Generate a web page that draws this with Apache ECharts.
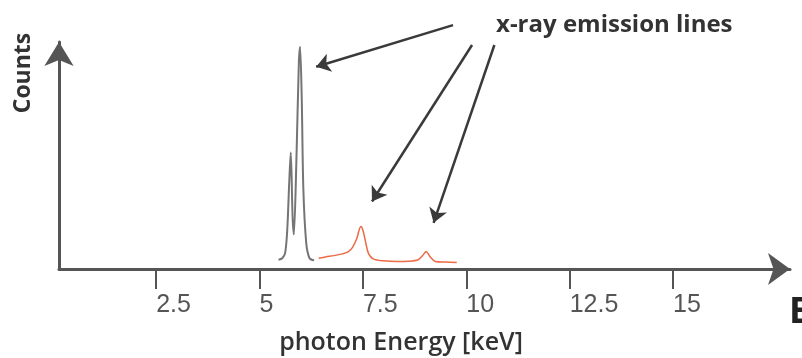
<!DOCTYPE html>
<html>
<head>
<meta charset="utf-8">
<script src="https://cdn.jsdelivr.net/npm/echarts@6/dist/echarts.min.js"></script>
<style>
  html, body { margin: 0; padding: 0; background: #fff; }
  #chart { width: 802px; height: 358px; }
</style>
</head>
<body>
<div id="chart"></div>
<script>
// gray lines (keV, counts)
const grayEnergy = [5.46, 5.55, 5.62, 5.67, 5.72, 5.755, 5.80, 5.83, 5.89, 5.95, 5.98, 6.02, 6.06, 6.13, 6.21, 6.32];
const grayCounts = [4.3, 5.0, 7.5, 18, 41, 54, 24, 16, 49, 95, 103, 80, 37, 12, 5, 4];
// orange lines
const orangeEnergy = [6.43, 6.6, 6.8, 7.0, 7.15, 7.25, 7.35, 7.45, 7.5, 7.56, 7.64, 7.76, 8.0, 8.32, 8.6, 8.84, 8.96, 9.03, 9.12, 9.25, 9.5, 9.77];
const orangeCounts = [5.0, 5.6, 6.2, 7.0, 8.0, 10.0, 14.0, 19.7, 18.0, 13.0, 7.0, 4.6, 3.8, 3.5, 3.6, 4.3, 6.6, 8.1, 5.8, 3.5, 3.2, 3.0];
const tickValues = [2.5, 5, 7.5, 10, 12.5, 15];
// annotation arrows: start -> end, in (keV, counts)
const arrowStarts = [[9.68, 113], [10.14, 103.8], [10.68, 103.8]];
const arrowEnds = [[6.37, 93.7], [7.72, 31.3], [9.21, 21.4]];

const zip = (xs, ys) => xs.map((x, i) => [x, ys[i]]);

let myChart = echarts.init(document.getElementById("chart"));
let option = {
  animation: false,
  grid: { left: 59, right: 12, top: 42, bottom: 89 },
  xAxis: {
    type: "value",
    min: 0.15,
    max: 17.83,
    splitLine: { show: false },
    axisLine: {
      symbol: ["none", "arrow"],
      symbolSize: [24, 22],
      lineStyle: { color: "#555", width: 3 }
    },
    axisTick: {
      customValues: tickValues,
      length: 20,
      lineStyle: { color: "#555", width: 2 }
    },
    axisLabel: {
      customValues: tickValues,
      align: "left",
      margin: 24,
      color: "#555",
      fontSize: 25,
      fontFamily: "Liberation Sans"
    }
  },
  yAxis: {
    type: "value",
    min: 0,
    max: 105.2,
    splitLine: { show: false },
    axisTick: { show: false },
    axisLabel: { show: false },
    axisLine: {
      show: true,
      symbol: ["none", "arrow"],
      symbolSize: [22, 24],
      lineStyle: { color: "#555", width: 3 }
    }
  },
  series: [
    {
      type: "line",
      data: zip(grayEnergy, grayCounts),
      symbol: "none",
      smooth: 0.3,
      clip: false,
      lineStyle: { color: "#757575", width: 2 }
    },
    {
      type: "line",
      data: zip(orangeEnergy, orangeCounts),
      symbol: "none",
      smooth: 0.3,
      clip: false,
      lineStyle: { color: "#ec6a45", width: 1.5 }
    },
    {
      type: "lines",
      coordinateSystem: "cartesian2d",
      clip: false,
      symbol: ["none", "arrow"],
      symbolSize: 14,
      lineStyle: { color: "#3a3a3a", width: 2.5, opacity: 1 },
      data: arrowStarts.map((s, i) => ({ coords: [s, arrowEnds[i]] }))
    }
  ],
  graphic: [
    {
      type: "text",
      x: 23, y: 73,
      rotation: Math.PI / 2,
      style: {
        text: "Counts", font: "bold 23px 'Open Sans'", fill: "#333",
        align: "center", verticalAlign: "middle", textAlign: "center", textVerticalAlign: "middle"
      }
    },
    {
      type: "text",
      x: 496, y: 25,
      style: {
        text: "x-ray emission lines", font: "bold 24px 'Open Sans'", fill: "#333",
        align: "left", verticalAlign: "middle", textAlign: "left", textVerticalAlign: "middle"
      }
    },
    {
      type: "text",
      x: 401, y: 343,
      style: {
        text: "photon Energy [keV]", font: "600 25px 'Open Sans'", fill: "#333",
        align: "center", verticalAlign: "middle", textAlign: "center", textVerticalAlign: "middle"
      }
    },
    {
      type: "text",
      x: 789, y: 313,
      style: {
        text: "E", font: "bold 36px 'Open Sans'", fill: "#222",
        align: "left", verticalAlign: "middle", textAlign: "left", textVerticalAlign: "middle"
      }
    }
  ]
};
myChart.setOption(option);
</script>
</body>
</html>
